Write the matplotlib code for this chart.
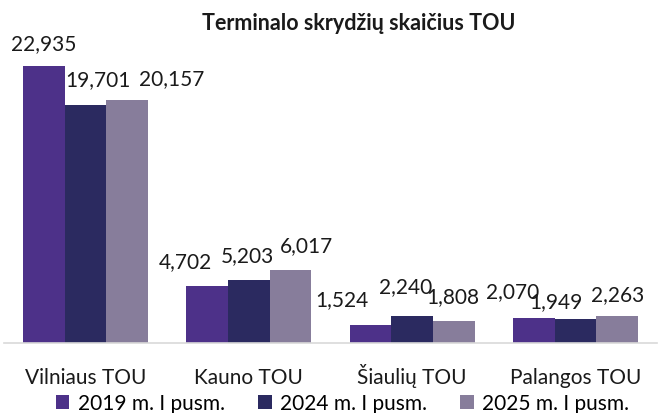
import matplotlib
matplotlib.use('Agg')
import matplotlib.pyplot as plt
import numpy as np

# duomenys
categories = ['Vilniaus TOU', 'Kauno TOU', 'Šiaulių TOU', 'Palangos TOU']
series_names = ['2019 m. I pusm.', '2024 m. I pusm.', '2025 m. I pusm.']
v2019 = [22935, 4702, 1524, 2070]
v2024 = [19701, 5203, 2240, 1949]
v2025 = [20157, 6017, 1808, 2263]

colors = ['#4D3189', '#2B2A60', '#877D9B']

# etikečių poslinkiai (px) kaip originale: (dx, dy)
label_offsets = [
    [(0, 23), (-22, 25), (-29, 25), (-21, 27)],
    [(12, 26), (-1, 25), (-6, 30), (-19, 18)],
    [(44, 21), (16, 25), (-1, 25), (1, 22)],
]

plt.rcParams['font.family'] = ['Lato', 'DejaVu Sans']

fig = plt.figure(figsize=(6.61, 4.14), dpi=100)
ax = fig.add_axes([4 / 661, 70 / 414, 653 / 661, 302 / 414])

x = np.arange(len(categories))
w = 0.255
for i, (name, vals) in enumerate(zip(series_names, [v2019, v2024, v2025])):
    bars = ax.bar(x + (i - 1) * w, vals, w, color=colors[i], label=name)
    for b, v, off in zip(bars, vals, label_offsets[i]):
        ax.annotate(f'{v:,}', (b.get_x() + b.get_width() / 2, v),
                    xytext=off, textcoords='offset pixels',
                    ha='center', va='center', fontsize=15, color='#1a1a1a')

ax.set_xlim(-0.5, 3.5)
ax.set_ylim(0, 25000)
ax.set_yticks([])
for s in ['top', 'right', 'left']:
    ax.spines[s].set_visible(False)
ax.spines['bottom'].set_color('#D9D9D9')
ax.spines['bottom'].set_linewidth(1.2)
ax.set_xticks(x)
ax.set_xticklabels(categories, fontsize=15, color='#1a1a1a', va='baseline')
ax.tick_params(axis='x', length=0, pad=29)

fig.text(0.542, 1 - 23 / 414, 'Terminalo skrydžių skaičius TOU', ha='center', va='center',
         fontsize=15.5, fontweight='bold', color='#1a1a1a')

fig.legend(loc='center', bbox_to_anchor=(0.518, 1 - 404 / 414), ncol=3, frameon=False,
           fontsize=15, handlelength=0.65, handleheight=0.65, handletextpad=0.4,
           columnspacing=1.6, borderaxespad=0, borderpad=0)

fig.savefig('out.png', dpi=100)
